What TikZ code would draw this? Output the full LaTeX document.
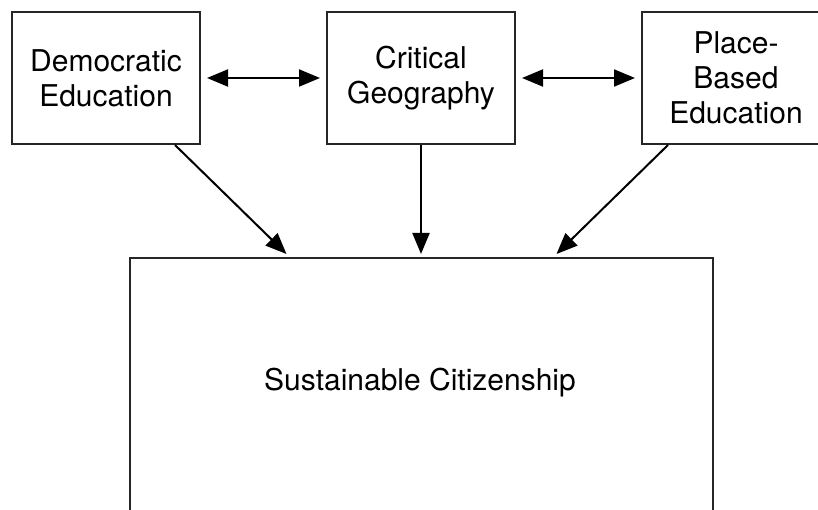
\documentclass[tikz,border=0pt]{standalone}
\usepackage{fontspec}
\setmainfont{TeX Gyre Heros}
\usetikzlibrary{arrows.meta}
\begin{document}
\begin{tikzpicture}[x=1pt,y=1pt,
  box/.style={draw=black!85, line width=2pt, minimum width=188pt, minimum height=132pt, inner sep=0pt, align=center,
    font=\fontsize{30}{35}\selectfont},
  bigbox/.style={draw=black!85, line width=2pt, minimum width=583pt, minimum height=280pt, inner sep=0pt},
  lbl/.style={font=\fontsize{30}{35}\selectfont, inner sep=0pt},
  arr/.style={line width=2pt, -{Triangle[length=21pt,width=17pt]}},
  darr/.style={line width=2pt, {Triangle[length=21pt,width=17pt]}-{Triangle[length=21pt,width=17pt]}}
]
\clip (0,0) rectangle (818,-510);
\fill[white] (0,0) rectangle (818,-510);
\node[box] (de) at (106,-78) {Democratic\\Education};
\node[box] (cg) at (421,-78) {Critical\\Geography};
\node[box] (pb) at (736,-78) {Place-\\Based\\Education};
\node[bigbox, anchor=north] (sc) at (421.5,-257) {};
\node[lbl] (sct) at (420,-383) {Sustainable Citizenship};
\draw[darr] ([xshift=6pt]de.east) -- ([xshift=-6pt]cg.west);
\draw[darr] ([xshift=6pt]cg.east) -- ([xshift=-6pt]pb.west);
\draw[arr] ([xshift=69pt]de.south) -- ([xshift=-135pt,yshift=3pt]sc.north);
\draw[arr] (cg.south) -- ([xshift=-0.5pt,yshift=3pt]sc.north);
\draw[arr] ([xshift=-68pt]pb.south) -- ([xshift=135pt,yshift=3pt]sc.north);
\end{tikzpicture}
\end{document}
